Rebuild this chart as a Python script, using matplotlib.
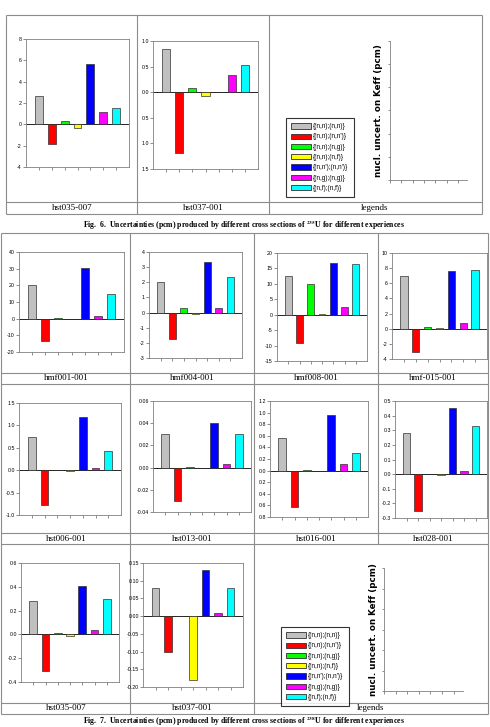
import numpy as np
import matplotlib
matplotlib.use('Agg')
import matplotlib.pyplot as plt
from matplotlib.patches import Patch
from matplotlib.ticker import FuncFormatter

plt.rcParams['mathtext.fontset'] = 'stix'

W, H = 490, 727

# series labels / colours (same in every panel)
reactions = ['{(n,n);(n,n)}', "{(n,n);(n,n')}", '{(n,n);(n,g)}', '{(n,n);(n,f)}',
             "{(n,n');(n,n')}", '{(n,g);(n,g)}', '{(n,f);(n,f)}']
colors = ['#c0c0c0', '#ff0000', '#00ff00', '#ffff00', '#0000ff', '#ff00ff', '#00ffff']

# Fig. 6 (235U)
u235_hst035_007 = [2.65, -1.85, 0.3, -0.3, 5.65, 1.15, 1.5]
u235_hst037_001 = [0.85, -1.18, 0.08, -0.07, 0.01, 0.33, 0.53]

# Fig. 7 (238U)
hmf001_001 = [20.2, -13.5, 0.5, -0.3, 30.5, 1.8, 15.0]
hmf004_001 = [2.05, -1.75, 0.3, -0.12, 3.35, 0.3, 2.35]
hmf008_001 = [12.5, -9.2, 10.0, 0.3, 16.7, 2.4, 16.5]
hmf015_001 = [6.9, -3.05, 0.25, 0.1, 7.6, 0.7, 7.7]
hst006_001 = [0.75, -0.77, 0.01, -0.02, 1.18, 0.05, 0.43]
hst013_001 = [0.03, -0.03, 0.0005, -0.0005, 0.04, 0.0035, 0.03]
hst016_001 = [0.56, -0.62, 0.01, -0.01, 0.96, 0.11, 0.31]
hst028_001 = [0.28, -0.25, 0.003, -0.008, 0.45, 0.02, 0.33]
u238_hst035_007 = [0.28, -0.31, 0.01, -0.01, 0.41, 0.04, 0.30]
u238_hst037_001 = [0.08, -0.10, 0.001, -0.18, 0.13, 0.01, 0.08]

fig = plt.figure(figsize=(W / 100, H / 100), dpi=100)


def rect(x0, y0, x1, y1):
    return [x0 / W, 1 - y1 / H, (x1 - x0) / W, (y1 - y0) / H]


bg = fig.add_axes([0, 0, 1, 1])
bg.set_xlim(0, W)
bg.set_ylim(H, 0)
bg.axis('off')


def line(x0, y0, x1, y1):
    bg.plot([x0, x1], [y0, y1], color='#8c8c8c', lw=0.8, solid_capstyle='butt')


def label(x, y, s):
    bg.text(x, y, s, ha='center', va='center', fontsize=6.5, family='Liberation Serif')


tickfont = ['Liberation Sans Narrow', 'Liberation Sans']


def bar_panel(box, vals, lo, hi, step, nd, absval=False):
    ax = fig.add_axes(rect(*box))
    x = np.arange(1, 8)
    ax.bar(x, vals, width=0.62, color=colors, edgecolor='#303030', linewidth=0.5, zorder=3)
    ax.axhline(0, color='black', lw=0.6, zorder=2)
    ax.set_xlim(0, 8)
    ax.set_ylim(lo, hi)
    n = int(round((hi - lo) / step))
    ax.set_yticks(np.linspace(lo, hi, n + 1))
    ax.set_xticks(x)
    ax.set_xticklabels([])

    def f(v, p):
        if abs(v) < 1e-9:
            v = 0.0
        if absval:
            v = abs(v)
        return f'{v:.{nd}f}'
    ax.yaxis.set_major_formatter(FuncFormatter(f))
    ax.tick_params(length=2, width=0.5, color='#606060', labelsize=3.8, pad=1)
    for t in ax.get_yticklabels():
        t.set_family(tickfont)
    for s in ax.spines.values():
        s.set_color('#808080')
        s.set_linewidth(0.6)
    return ax


def legend_panel(box, leg_xy, lab_x):
    ax = fig.add_axes(rect(*box))
    ax.set_xlim(0, 6.8)
    ax.set_ylim(0, 6)
    ax.set_xticks(np.arange(0, 7))
    ax.set_yticks(np.arange(0, 7))
    ax.set_xticklabels([])
    ax.set_yticklabels([])
    ax.tick_params(length=1.8, width=0.5, color='#606060')
    for k in ['top', 'right']:
        ax.spines[k].set_visible(False)
    for k in ['left', 'bottom']:
        ax.spines[k].set_color('#808080')
        ax.spines[k].set_linewidth(0.6)
    bg.text(lab_x, (box[1] + box[3]) / 2, 'nucl. uncert. on Keff (pcm)', rotation=90,
            ha='center', va='center', fontsize=6.3, fontweight='bold', family='DejaVu Sans')
    handles = [Patch(facecolor=c, edgecolor='#303030', linewidth=0.6) for c in colors]
    leg = fig.legend(handles, reactions, loc='upper left',
                     bbox_to_anchor=(leg_xy[0] / W, 1 - leg_xy[1] / H),
                     bbox_transform=fig.transFigure, fancybox=False,
                     prop={'family': tickfont, 'size': 4.7},
                     handlelength=3.0, handleheight=0.9, labelspacing=0.5,
                     handletextpad=0.4, borderpad=0.8, borderaxespad=0)
    leg.get_frame().set_edgecolor('black')
    leg.get_frame().set_linewidth(0.8)


# ---- Fig. 6 table ----
line(6, 15, 482, 15)
line(6, 202, 482, 202)
line(6, 214, 482, 214)
for xv in [6, 137, 269, 482]:
    line(xv, 15, xv, 214)
label(72, 208, 'hst035-007')
label(203, 208, 'hst037-001')
label(375, 208, 'legends')

bar_panel((26, 39, 129, 167), u235_hst035_007, -4, 8, 2, 0)
bar_panel((153, 41, 258, 169), u235_hst037_001, -1.5, 1.0, 0.5, 1, absval=True)
legend_panel((390, 41, 467, 180), (286, 118), 378)

bg.text(244, 225, r'Fig.  6.  Uncertainties (pcm) produced by different cross sections of $^{\mathbf{235}}$U for different experiences',
        ha='center', va='center', fontsize=5.6, fontweight='bold', family='Liberation Serif')

# ---- Fig. 7 table ----
for yv in [233, 373, 384, 533, 544, 703, 714]:
    line(1, yv, 488, yv)
for xv in [1, 130, 254, 488]:
    line(xv, 233, xv, 714)
line(378, 233, 378, 544)

label(66, 378, 'hmf001-001')
label(192, 378, 'hmf004-001')
label(316, 378, 'hmf008-001')
label(433, 378, 'hmf-015-001')
label(66, 539, 'hst006-001')
label(192, 539, 'hst013-001')
label(316, 539, 'hst016-001')
label(433, 539, 'hst028-001')
label(66, 708, 'hst035-007')
label(192, 708, 'hst037-001')
label(371, 708, 'legends')

bar_panel((19, 252, 124, 352), hmf001_001, -20, 40, 10, 0)
bar_panel((149, 252, 242, 358), hmf004_001, -3, 4, 1, 0)
bar_panel((277, 253, 367, 361), hmf008_001, -15, 20, 5, 0)
bar_panel((392, 253, 487, 359), hmf015_001, -4, 10, 2, 0)

bar_panel((19, 403, 121, 515), hst006_001, -1.0, 1.5, 0.5, 1)
bar_panel((153, 401, 251, 512), hst013_001, -0.04, 0.06, 0.02, 2)
bar_panel((270, 401, 368, 517), hst016_001, -0.8, 1.2, 0.2, 1, absval=True)
bar_panel((395, 401, 487, 518), hst028_001, -0.3, 0.5, 0.1, 1)

bar_panel((21, 563, 119, 682), u238_hst035_007, -0.4, 0.6, 0.2, 1)
bar_panel((143, 563, 243, 687), u238_hst037_001, -0.20, 0.15, 0.05, 2)
legend_panel((384, 568, 463, 691), (281, 627), 373)

bg.text(244, 721, r'Fig.  7.  Uncertainties (pcm) produced by different cross sections of $^{\mathbf{238}}$U for different experiences',
        ha='center', va='center', fontsize=5.6, fontweight='bold', family='Liberation Serif')

fig.savefig('out.png', dpi=100)
